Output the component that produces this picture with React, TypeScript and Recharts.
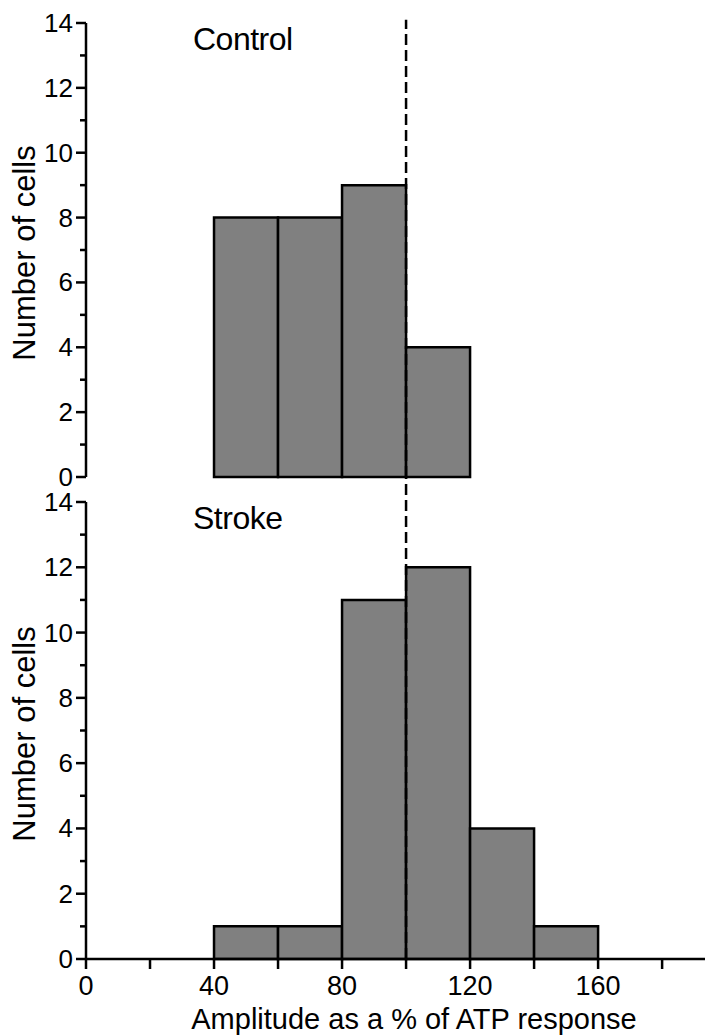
import { Bar, ComposedChart, ReferenceLine, XAxis, YAxis } from 'recharts';

// histogram bins (centre of each 20 % wide bin) and cell counts
const controlBins = [50, 70, 90, 110];
const controlCounts = [8, 8, 9, 4];
const strokeBins = [50, 70, 90, 110, 130, 150];
const strokeCounts = [1, 1, 11, 12, 4, 1];

const yTicks = [0, 1, 2, 3, 4, 5, 6, 7, 8, 9, 10, 11, 12, 13, 14];
const xTicks = [0, 20, 40, 60, 80, 100, 120, 140, 160, 180];
const X_DOMAIN: [number, number] = [0, 193.4];

const controlData = controlBins.map((bin, i) => ({ bin, count: controlCounts[i] }));
const strokeData = strokeBins.map((bin, i) => ({ bin, count: strokeCounts[i] }));

const FONT = '"Liberation Sans", Arial, sans-serif';

const YTick = (props: any) => {
  const { x, y, payload } = props;
  const major = payload.value % 2 === 0;
  return (
    <g>
      <line x1={x - (major ? 10 : 6)} x2={x} y1={y} y2={y} stroke="#000" strokeWidth={2.5} />
      {major && (
        <text x={x - 13} y={y + 9} textAnchor="end" fontSize={26} fill="#000">
          {payload.value}
        </text>
      )}
    </g>
  );
};

const XTick = (props: any) => {
  const { x, y, payload } = props;
  const major = payload.value % 40 === 0;
  return (
    <g>
      <line x1={x} x2={x} y1={y} y2={y + 10} stroke="#000" strokeWidth={2.5} />
      {major && (
        <text x={x} y={y + 36} textAnchor="middle" fontSize={27} fill="#000">
          {payload.value}
        </text>
      )}
    </g>
  );
};

function Panel({
  data,
  title,
  height,
  top,
  bottom,
  showX,
  dashTop,
  labelY,
}: {
  data: { bin: number; count: number }[];
  title: string;
  height: number;
  top: number;
  bottom: number;
  showX: boolean;
  dashTop: number;
  labelY: number;
}) {
  return (
    <ComposedChart
      width={705}
      height={height}
      data={data}
      margin={{ top, right: 0, left: 0, bottom: showX ? 0 : bottom }}
      barCategoryGap={0}
      style={{ fontFamily: FONT }}
    >
      <XAxis
        dataKey="bin"
        type="number"
        domain={X_DOMAIN}
        ticks={xTicks}
        interval={0}
        hide={!showX}
        height={showX ? bottom : 0}
        axisLine={{ stroke: '#000', strokeWidth: 2.5 }}
        tickLine={false}
        tickSize={0}
        tickMargin={0}
        tick={<XTick />}
      />
      <YAxis
        type="number"
        domain={[0, 14]}
        ticks={yTicks}
        interval={0}
        width={86}
        axisLine={{ stroke: '#000', strokeWidth: 2.5 }}
        tickLine={false}
        tickSize={0}
        tickMargin={0}
        tick={<YTick />}
      />
      <ReferenceLine
        segment={[
          { x: 100, y: 0 },
          { x: 100, y: dashTop },
        ]}
        ifOverflow="visible"
        stroke="#000"
        strokeWidth={2.5}
        strokeDasharray="11 5"
      />
      <Bar
        dataKey="count"
        fill="#808080"
        stroke="#000"
        strokeWidth={2.5}
        isAnimationActive={false}
      />
      <text x={193} y={top + 27} fontSize={32} fill="#000" letterSpacing={-0.5}>
        {title}
      </text>
      <text
        x={35}
        y={labelY}
        fontSize={31}
        fill="#000"
        textAnchor="middle"
        transform={`rotate(-90 35 ${labelY})`}
      >
        Number of cells
      </text>
      {showX && (
        <text x={414} y={height - 6} fontSize={29} fill="#000" textAnchor="middle">
          Amplitude as a % of ATP response
        </text>
      )}
    </ComposedChart>
  );
}

export default function App() {
  return (
    <div style={{ position: 'absolute', left: 0, top: 0, width: 705, height: 1035, background: '#fff', fontFamily: FONT }}>
      <div style={{ position: 'absolute', left: 0, top: 0 }}>
        <Panel
          data={controlData}
          title="Control"
          height={500}
          top={23}
          bottom={23}
          showX={false}
          dashTop={14.1}
          labelY={253}
        />
      </div>
      <div style={{ position: 'absolute', left: 0, top: 470 }}>
        <Panel
          data={strokeData}
          title="Stroke"
          height={565}
          top={32}
          bottom={76}
          showX={true}
          dashTop={14.77}
          labelY={264}
        />
      </div>
    </div>
  );
}
